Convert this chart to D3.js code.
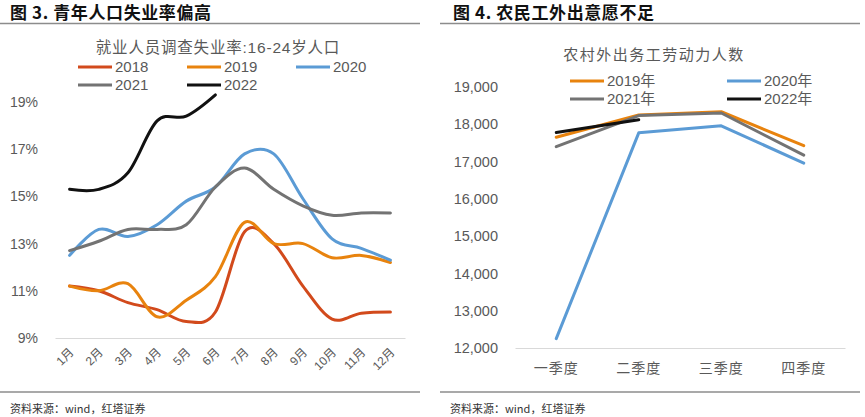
<!DOCTYPE html>
<html><head><meta charset="utf-8">
<script src="https://cdn.jsdelivr.net/npm/d3@7"></script>
<style>
html,body{margin:0;padding:0;background:#fff;}
svg{display:block;font-family:Arial,"Liberation Sans","Noto Sans CJK SC",sans-serif;}
</style></head><body>
<svg id="c" width="865" height="417"></svg>
<script>
// ---- Left chart data ----
const months = ["1月","2月","3月","4月","5月","6月","7月","8月","9月","10月","11月","12月"];
const y2018 = [11.2,11.0,10.5,10.2,9.7,10.1,13.5,13.0,11.2,9.8,10.05,10.1];
const y2019 = [11.2,11.0,11.3,9.9,10.6,11.6,13.9,13.0,13.0,12.4,12.5,12.2];
const y2020 = [12.5,13.6,13.3,13.8,14.8,15.4,16.8,16.8,14.9,13.2,12.8,12.3];
const y2021 = [12.7,13.1,13.6,13.6,13.8,15.4,16.2,15.3,14.6,14.2,14.3,14.3];
const y2022 = [15.3,15.3,16.0,18.2,18.4,19.3];
const leftTicks = [9,11,13,15,17,19];
const leftNames = ["2018","2019","2020","2021","2022"];

// ---- Right chart data ----
const quarters = ["一季度","二季度","三季度","四季度"];
const q2019 = [17651,18248,18336,17425];
const q2020 = [12251,17770,17959,16959];
const q2021 = [17401,18233,18303,17172];
const q2022 = [17780,18124];
const rightTicks = [12000,13000,14000,15000,16000,17000,18000,19000];
const rightNames = ["2019年","2020年","2021年","2022年"];

const C = {red:"#D24A1C", orange:"#E8830E", blue:"#5B9BD5", gray:"#737373", black:"#111111"};
const txt = "#595959";
const svg = d3.select("#c");

// ---------- Left panel ----------
const L = svg.append("g");
L.append("text").attr("x",10).attr("y",19).attr("font-size",17).attr("font-weight","bold")
  .attr("fill","#111").attr("font-family","'Noto Sans CJK SC',sans-serif").attr("letter-spacing",0.6)
  .text("图 3. 青年人口失业率偏高");
L.append("line").attr("x1",0).attr("x2",420).attr("y1",23.5).attr("y2",23.5).attr("stroke","#8c8c8c").attr("stroke-width",1.5);
L.append("line").attr("x1",0).attr("x2",420).attr("y1",392).attr("y2",392).attr("stroke","#8c8c8c").attr("stroke-width",1.5);
L.append("text").attr("x",10).attr("y",413).attr("font-size",11).attr("fill","#333")
  .attr("font-family","'Noto Sans CJK SC',sans-serif").text("资料来源：wind，红塔证券");
L.append("text").attr("x",218).attr("y",53).attr("text-anchor","middle").attr("font-size",15.5)
  .attr("fill",txt).attr("letter-spacing",0.8).text("就业人员调查失业率:16-24岁人口");

const xL = d3.scalePoint().domain(months).range([55,405]).padding(0.5);
const yL = d3.scaleLinear().domain([9,19]).range([338,102]);

L.append("g").attr("transform","translate(0,338)")
  .call(d3.axisBottom(xL).tickSize(0).tickFormat(()=>""))
  .call(g=>g.select(".domain").attr("stroke","#d9d9d9").attr("stroke-width",1.2));
L.selectAll(".xl").data(months).join("text")
  .attr("transform",d=>`translate(${xL(d)+2},350) rotate(-45)`)
  .attr("text-anchor","end").attr("dy","0.35em").attr("font-size",12).attr("fill",txt).text(d=>d);
L.append("g").attr("transform","translate(41,0)")
  .call(d3.axisLeft(yL).tickValues(leftTicks).tickSize(0).tickFormat(d=>d+"%"))
  .call(g=>g.select(".domain").remove())
  .call(g=>g.selectAll("text").attr("font-size",14).attr("fill",txt).attr("font-family","Arial,'Liberation Sans',sans-serif"));

const lineL = d3.line().x((d,i)=>xL(months[i])).y(d=>yL(d)).curve(d3.curveCatmullRom.alpha(0));
const leftSeries = [[y2018,C.red],[y2019,C.orange],[y2020,C.blue],[y2021,C.gray],[y2022,C.black]];
leftSeries.forEach(([v,c])=>{
  L.append("path").attr("d",lineL(v)).attr("fill","none").attr("stroke",c).attr("stroke-width",3).attr("stroke-linecap","round");
});
// legend
const legPos = [[78,67],[187,67],[296,67],[78,85],[187,85]];
leftNames.forEach((n,i)=>{
  const [lx,ly]=legPos[i];
  L.append("line").attr("x1",lx).attr("x2",lx+34).attr("y1",ly).attr("y2",ly).attr("stroke",leftSeries[i][1]).attr("stroke-width",3);
  L.append("text").attr("x",lx+37).attr("y",ly).attr("dy","0.35em").attr("font-size",15).attr("fill",txt).text(n);
});

// ---------- Right panel ----------
const R = svg.append("g");
R.append("text").attr("x",453).attr("y",19).attr("font-size",17).attr("font-weight","bold")
  .attr("fill","#111").attr("font-family","'Noto Sans CJK SC',sans-serif").attr("letter-spacing",0.6)
  .text("图 4. 农民工外出意愿不足");
R.append("line").attr("x1",440).attr("x2",860).attr("y1",23.5).attr("y2",23.5).attr("stroke","#8c8c8c").attr("stroke-width",1.5);
R.append("line").attr("x1",440).attr("x2",860).attr("y1",392).attr("y2",392).attr("stroke","#8c8c8c").attr("stroke-width",1.5);
R.append("text").attr("x",450).attr("y",413).attr("font-size",11).attr("fill","#333")
  .attr("font-family","'Noto Sans CJK SC',sans-serif").text("资料来源：wind，红塔证券");
R.append("text").attr("x",654).attr("y",60).attr("text-anchor","middle").attr("font-size",15)
  .attr("fill",txt).attr("letter-spacing",1.5).text("农村外出务工劳动力人数");

const xR = d3.scalePoint().domain(quarters).range([515,845]).padding(0.5);
const yR = d3.scaleLinear().domain([12000,19000]).range([348,87]);
R.append("g").attr("transform","translate(0,348)")
  .call(d3.axisBottom(xR).tickSize(0).tickFormat(()=>""))
  .call(g=>g.select(".domain").attr("stroke","#d9d9d9").attr("stroke-width",1.2));
R.selectAll(".xr").data(quarters).join("text")
  .attr("x",d=>xR(d)).attr("y",368).attr("dy","0.35em").attr("text-anchor","middle")
  .attr("font-size",14).attr("fill",txt).attr("letter-spacing",1).text(d=>d);
R.append("g").attr("transform","translate(501,0)")
  .call(d3.axisLeft(yR).tickValues(rightTicks).tickSize(0).tickFormat(d3.format(",")))
  .call(g=>g.select(".domain").remove())
  .call(g=>g.selectAll("text").attr("font-size",14.5).attr("fill",txt).attr("font-family","Arial,'Liberation Sans',sans-serif"));

const lineR = d3.line().x((d,i)=>xR(quarters[i])).y(d=>yR(d));
const rightSeries = [[q2019,C.orange],[q2020,C.blue],[q2021,C.gray],[q2022,C.black]];
[[q2019,C.orange],[q2021,C.gray],[q2020,C.blue],[q2022,C.black]].forEach(([v,c])=>{
  R.append("path").attr("d",lineR(v)).attr("fill","none").attr("stroke",c).attr("stroke-width",3).attr("stroke-linecap","round").attr("stroke-linejoin","round");
});
const legR = [[570,81],[727,81],[570,99],[727,99]];
rightNames.forEach((n,i)=>{
  const [lx,ly]=legR[i];
  R.append("line").attr("x1",lx).attr("x2",lx+34).attr("y1",ly).attr("y2",ly).attr("stroke",rightSeries[i][1]).attr("stroke-width",3);
  R.append("text").attr("x",lx+37).attr("y",ly).attr("dy","0.35em").attr("font-size",15).attr("fill",txt).text(n);
});
</script>
</body></html>
